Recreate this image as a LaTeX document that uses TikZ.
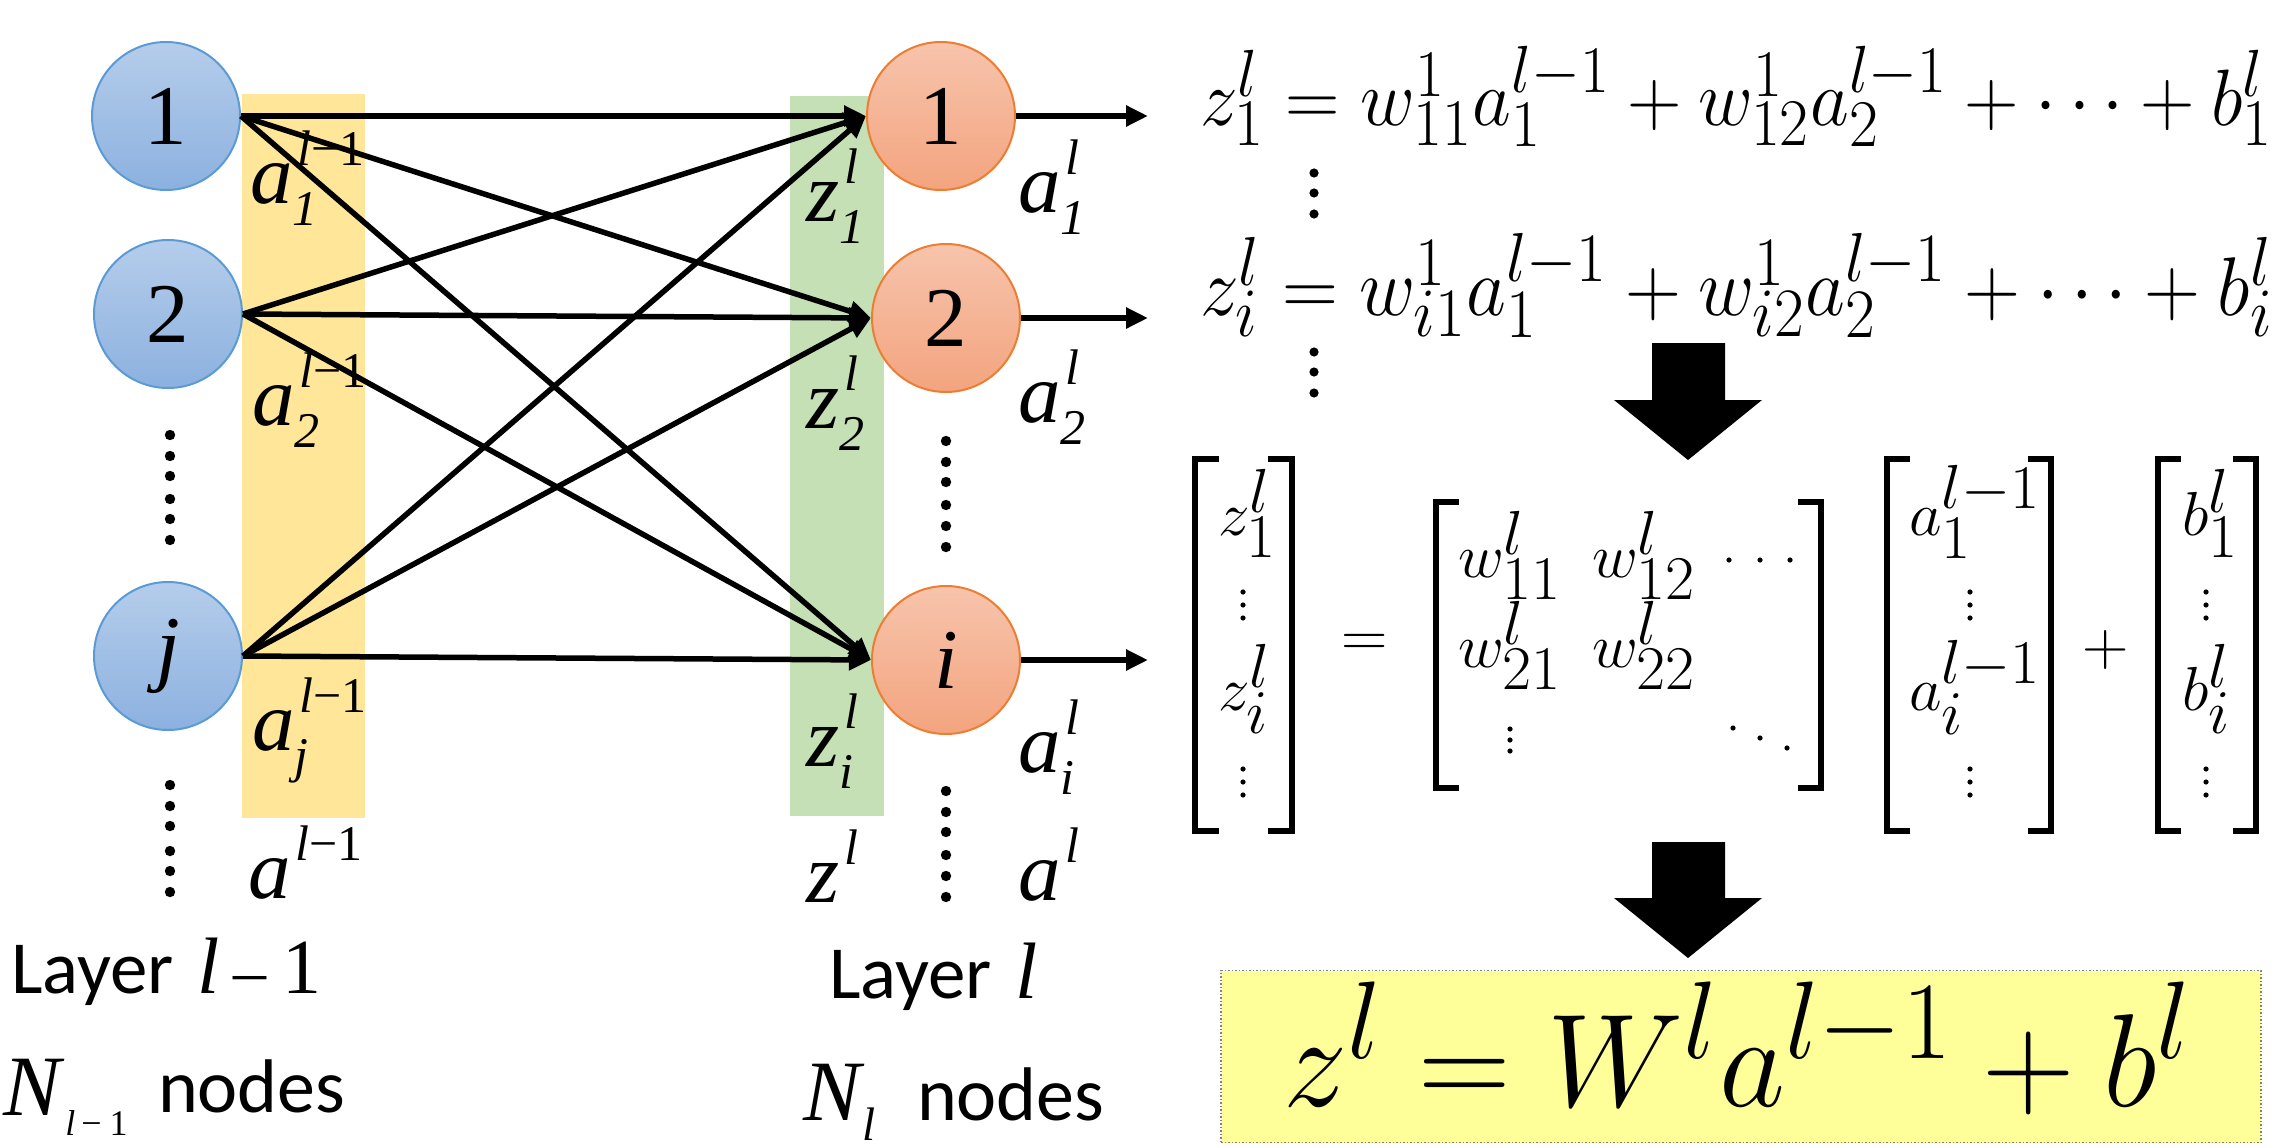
\documentclass[tikz,border=0pt]{standalone}
\usepackage[no-math]{fontspec}
\usepackage{graphicx}
\usetikzlibrary{arrows.meta}
\newfontfamily\tnr{Liberation Serif}
\newfontfamily\calib{Carlito}
\DeclareMathSizes{24.88}{24.88}{20.74}{17.28}
\DeclareMathSizes{20.74}{20.74}{20.74}{17.28}
\definecolor{bborder}{HTML}{5B9BD5}
\definecolor{btop}{HTML}{B5CDEB}
\definecolor{bbot}{HTML}{8CB1DF}
\definecolor{oborder}{HTML}{ED7D31}
\definecolor{otop}{HTML}{F7C4AC}
\definecolor{obot}{HTML}{F3A47F}
\definecolor{yellowbar}{HTML}{FFE699}
\definecolor{greenbar}{HTML}{C5E0B4}
\definecolor{boxy}{HTML}{FFFF99}
\newcommand\Lb[3]{{\fontsize{85}{90}\selectfont\tnr\itshape #1}{\fontsize{50}{55}\selectfont\tnr\itshape\rlap{\kern5pt\raisebox{38pt}{#3}}\raisebox{-22pt}{#2}}}
\newcommand\Lm{{\upshape\char"2212 1}}
\newcommand\mx[1]{\scalebox{3.05}[3.0]{\fontsize{20.74}{25}\selectfont$#1$}}
\newcommand\mo[1]{\scalebox{3.1}[3.0]{\fontsize{20.74}{25}\selectfont$#1$}}
\tikzset{
  bnode/.style={circle, minimum size=148pt, inner sep=0pt, draw=bborder, line width=2pt,
    top color=btop, bottom color=bbot, font=\fontsize{85}{90}\selectfont\tnr},
  onode/.style={circle, minimum size=148pt, inner sep=0pt, draw=oborder, line width=2pt,
    top color=otop, bottom color=obot, font=\fontsize{85}{90}\selectfont\tnr},
  conn/.style={-{Triangle[length=22pt,width=20pt]}, line width=5.5pt},
  lab/.style={anchor=base west, inner sep=0pt, outer sep=0pt},
  eqn/.style={anchor=north west, inner sep=0pt, outer sep=0pt},
  brk/.style={line width=6pt, line cap=rect, line join=miter},
  bigarrow/.style={fill=black},
  mdot/.style={fill=black}
}
\begin{document}
\begin{tikzpicture}[x=1pt,y=-1pt]
\useasboundingbox (0,0) rectangle (2278,1148);
% coloured bars
\fill[fill=yellowbar] (242,94) rectangle (365,818);
\fill[fill=greenbar] (790,96) rectangle (884,816);
% labels left column
\node[lab] (la1) at (250,203) {\Lb{a}{1}{l\Lm}};
\node[lab] (la2) at (252,425) {\Lb{a}{2}{l\Lm}};
\node[lab] (laj) at (252,750) {\Lb{a}{j}{l\Lm}};
\node[lab] (la)  at (248,898) {\Lb{a}{}{l\Lm}};
% labels z
\node[lab] (lz1) at (806,221) {\Lb{z}{1}{l}};
\node[lab] (lz2) at (806,428) {\Lb{z}{2}{l}};
\node[lab] (lzi) at (806,766) {\Lb{z}{i}{l}};
\node[lab] (lz)  at (806,902) {\Lb{z}{}{l}};
% labels a right
\node[lab] (ra1) at (1018,212) {\Lb{a}{1}{l}};
\node[lab] (ra2) at (1018,422) {\Lb{a}{2}{l}};
\node[lab] (rai) at (1018,772) {\Lb{a}{i}{l}};
\node[lab] (ra)  at (1018,900) {\Lb{a}{}{l}};
% neurons
\node[bnode] (b1) at (166,116) {1};
\node[bnode] (b2) at (168,314) {2};
\node[bnode] (bj) at (168,656) {\itshape j};
\node[onode] (o1) at (941,116) {1};
\node[onode] (o2) at (946,318) {2};
\node[onode] (oi) at (946,660) {\itshape i};
% connections
\foreach \s in {b1,b2,bj}{\foreach \t in {o1,o2,oi}{\draw[conn] (\s.east) -- (\t.west);}}
\coordinate (out1) at (1148,116);
\coordinate (out2) at (1148,318);
\coordinate (outi) at (1148,660);
\draw[conn] (o1.east) -- (out1);
\draw[conn] (o2.east) -- (out2);
\draw[conn] (oi.east) -- (outi);
% vertical dots
\foreach \y in {435,456,476,499,519,540,785,806,826,851,871,892}{\fill (170,\y) circle (5.2);}
\foreach \y in {441,462,482,505,526,547,791,812,832,855,876,897}{\fill (946,\y) circle (5.2);}
\foreach \y in {173,193,214,352,372,393}{\fill (1314,\y) circle (4.6);}
% layer captions
\node[lab] (lay1) at (11,993) {\calib\fontsize{75}{80}\selectfont Layer\kern24pt\tnr\fontsize{80}{85}\selectfont\itshape l\upshape\kern14pt{\fontsize{66}{70}\selectfont\char"2013}\kern16pt{\fontsize{78}{80}\selectfont 1}};
\node[lab] (lay2) at (829,998) {\calib\fontsize{75}{80}\selectfont Layer\kern24pt\tnr\fontsize{80}{85}\selectfont\itshape l};
\node[lab] (n1) at (4,1115) {\tnr\fontsize{86}{90}\selectfont\itshape N\kern4pt\raisebox{-20pt}{\fontsize{36}{38}\selectfont l\kern6pt\upshape\char"2212\kern8pt 1}};
\node[lab] (n1t) at (158,1112) {\calib\fontsize{76}{80}\selectfont nodes};
\node[lab] (n2) at (803,1120) {\tnr\fontsize{86}{90}\selectfont\itshape N\kern2pt\raisebox{-20pt}{\fontsize{47}{50}\selectfont l}};
\node[lab] (n2t) at (917,1120) {\calib\fontsize{76}{80}\selectfont nodes};
% equations
\node[eqn] (eq1) at (1200,46) {\resizebox*{1073pt}{100pt}{\fontsize{24.88}{30}\selectfont$z_1^l = w_{11}^1 a_1^{l-1} + w_{12}^1 a_2^{l-1} + \cdots + b_1^l$}};
\node[eqn] (eq2) at (1200,233) {\resizebox*{1073pt}{104pt}{\fontsize{24.88}{30}\selectfont$z_i^l = w_{i1}^1 a_1^{l-1} + w_{i2}^1 a_2^{l-1} + \cdots + b_i^l$}};
% big arrows
\fill[bigarrow] (1652,343) -- (1725,343) -- (1725,400) -- (1762,400) -- (1688,460) -- (1614,400) -- (1652,400) -- cycle;
\fill[bigarrow] (1652,842) -- (1725,842) -- (1725,898) -- (1762,898) -- (1688,958) -- (1614,898) -- (1652,898) -- cycle;
% matrix equation: brackets
\draw[brk] (1216,459) -- (1195,459) -- (1195,831) -- (1216,831);
\draw[brk] (1271,459) -- (1292,459) -- (1292,831) -- (1271,831);
\draw[brk] (1456,502) -- (1436,502) -- (1436,788) -- (1456,788);
\draw[brk] (1801,502) -- (1821,502) -- (1821,788) -- (1801,788);
\draw[brk] (1907,459) -- (1887,459) -- (1887,831) -- (1907,831);
\draw[brk] (2031,459) -- (2051,459) -- (2051,831) -- (2031,831);
\draw[brk] (2178,459) -- (2158,459) -- (2158,831) -- (2178,831);
\draw[brk] (2236,459) -- (2256,459) -- (2256,831) -- (2236,831);
% matrix entries
\node[lab] (mz1) at (1218,535) {\mx{z_1^l}};
\node[lab] (mzi) at (1218,710) {\mx{z_i^l}};
\node[inner sep=0pt] (meq) at (1365,645) {\mo{=}};
\node[lab] (w11) at (1458,577) {\mx{w_{11}^l}};
\node[lab] (w12) at (1592,577) {\mx{w_{12}^l}};
\node[lab] (w21) at (1458,667) {\mx{w_{21}^l}};
\node[lab] (w22) at (1592,667) {\mx{w_{22}^l}};
\node[lab] (ma1) at (1909,535) {\mx{a_1^{l-1}}};
\node[lab] (mai) at (1909,710) {\mx{a_i^{l-1}}};
\node[inner sep=0pt] (mplus) at (2106,650) {\mo{+}};
\node[lab] (mb1) at (2182,535) {\mx{b_1^l}};
\node[lab] (mbi) at (2182,710) {\mx{b_i^l}};
% matrix dots
\foreach \x in {1243,1970,2206}{\foreach \y in {592,605,618,769,782,795}{\fill[mdot] (\x,\y) circle (2.6);}}
\foreach \y in {729,740,751}{\fill[mdot] (1510,\y) circle (2.6);}
\foreach \x in {1729,1760,1790}{\fill[mdot] (\x,560) circle (2.6);}
\fill[mdot] (1733,728) circle (2.6);
\fill[mdot] (1760,738) circle (2.6);
\fill[mdot] (1787,748) circle (2.6);
% result box
\node[draw=gray, dotted, line width=1.5pt, fill=boxy, minimum width=1040pt, minimum height=172pt, inner sep=0pt] (box) at (1741,1056.5) {};
\node[eqn] (res) at (1283,982) {\resizebox*{910pt}{133pt}{\fontsize{24.88}{30}\selectfont$z^l = W^l a^{l-1} + b^l$}};
\end{tikzpicture}
\end{document}
